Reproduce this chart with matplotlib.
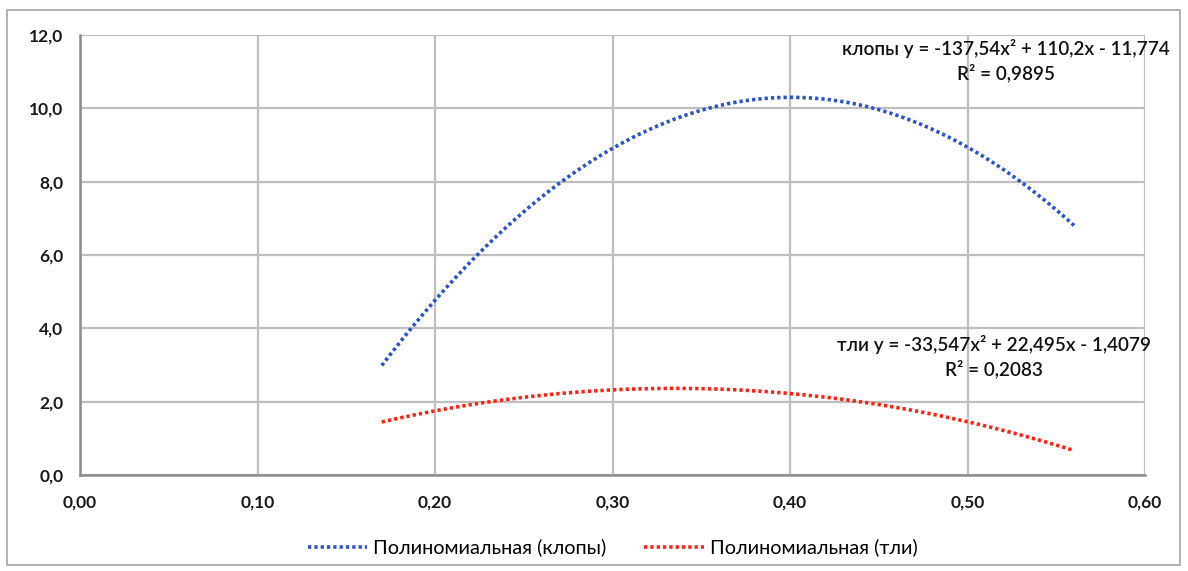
import numpy as np
import matplotlib
matplotlib.use("Agg")
import matplotlib.pyplot as plt
from matplotlib.patches import Rectangle

# Trendline data (displayed polynomial coefficients and x-range)
series_names = ["Полиномиальная (клопы)", "Полиномиальная (тли)"]
coef_klopy = [-137.54, 110.2, -11.774]
coef_tli = [-33.547, 22.495, -1.4079]
x_range = [0.17, 0.56]
eq_klopy = "клопы y = -137,54x² + 110,2x - 11,774\nR² = 0,9895"
eq_tli = "тли y = -33,547x² + 22,495x - 1,4079\nR² = 0,2083"
xticks = [0.0, 0.1, 0.2, 0.3, 0.4, 0.5, 0.6]
yticks = [0, 2, 4, 6, 8, 10, 12]

plt.rcParams['font.family'] = ['Lato', 'DejaVu Sans']

fig = plt.figure(figsize=(11.88, 5.71), dpi=100)
fig.patch.set_facecolor('white')
fig.add_artist(Rectangle((7/1188, 6/571), 1173/1188, 555/571, transform=fig.transFigure,
                         fill=False, edgecolor='#a6a6a6', linewidth=1.2))

ax = fig.add_axes([80/1188, 96/571, 1065/1188, 440/571])
x = np.linspace(x_range[0], x_range[1], 200)
dot = (0, (0.9, 0.85))
ax.plot(x, np.polyval(coef_klopy, x), color='#2a52d0', linestyle=dot,
        linewidth=2.6, label=series_names[0])
ax.plot(x, np.polyval(coef_tli, x), color='#ff2010', linestyle=dot,
        linewidth=2.6, label=series_names[1])

ax.set_xlim(0, 0.6)
ax.set_ylim(0, 12)
ax.set_xticks(xticks)
ax.set_yticks(yticks)
ax.set_xticklabels([f"{v:.2f}".replace('.', ',') for v in xticks])
ax.set_yticklabels([f"{v:.1f}".replace('.', ',') for v in yticks])
ax.tick_params(length=0, labelsize=12.5, colors='#1a1a1a')
for lab in ax.get_xticklabels() + ax.get_yticklabels():
    lab.set_fontweight('bold')
ax.tick_params(axis='x', pad=14)
ax.tick_params(axis='y', pad=12)
ax.grid(True, color='#bfbfbf', linewidth=1.6)
ax.set_axisbelow(True)
for s in ['top', 'right']:
    ax.spines[s].set_visible(False)
for s in ['left', 'bottom']:
    ax.spines[s].set_color('#8c8c8c')
    ax.spines[s].set_linewidth(1.8)

ax.text(0.614, 11.3, eq_klopy, ha='right', va='center', fontsize=13.6,
        multialignment='center', color='#111111', linespacing=1.35, fontweight='semibold')
ax.text(0.6035, 3.23, eq_tli, ha='right', va='center', fontsize=13.6,
        multialignment='center', color='#111111', linespacing=1.35, fontweight='semibold')

leg = ax.legend(loc='center', bbox_to_anchor=(0.5, -0.165), ncol=2, frameon=False,
                fontsize=14.3, handlelength=3.0, columnspacing=1.9, handletextpad=0.3)

fig.savefig("out.png", dpi=100)
